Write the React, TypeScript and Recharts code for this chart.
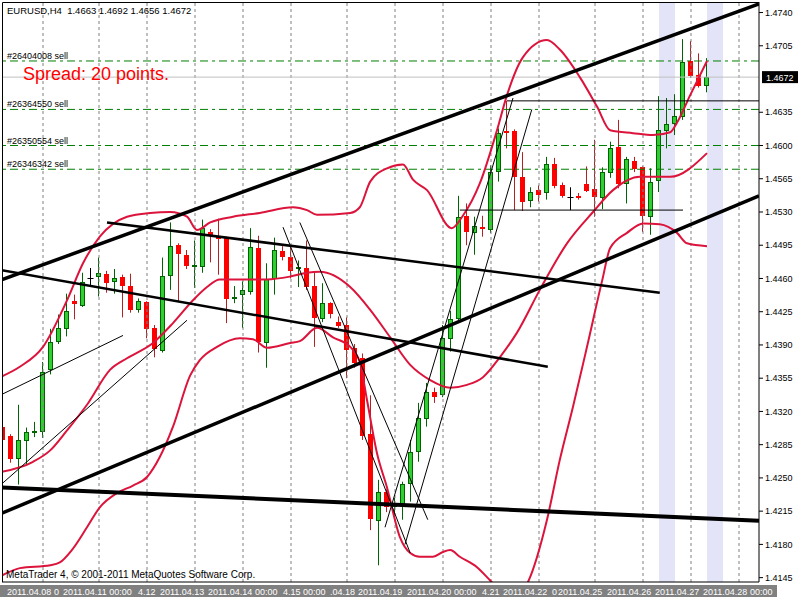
import React from "react";
import {
  ComposedChart,
  Bar,
  Line,
  XAxis,
  YAxis,
  ReferenceLine,
  ReferenceArea,
  ReferenceDot,
} from "recharts";

const FONT = '"Liberation Sans", Arial, sans-serif';

const symbol = "EURUSD";
const period = "H4";

// H4 bars, left to right (bar 0 is the first one on screen)
const opens = [
  1.4304, 1.4294, 1.427, 1.4289, 1.4297, 1.4299, 1.4364, 1.4393, 1.4407, 1.4436,
  1.4431, 1.446, 1.4462, 1.4465, 1.4456, 1.4462, 1.4452, 1.4427, 1.4435, 1.4408,
  1.4384, 1.4462, 1.4495, 1.4485, 1.4472, 1.4472, 1.4509, 1.4504, 1.4503, 1.444,
  1.4443, 1.4446, 1.4492, 1.4392, 1.4459, 1.4489, 1.4483, 1.447, 1.4471, 1.4452,
  1.4417, 1.4434, 1.4414, 1.4411, 1.4387, 1.4376, 1.4296, 1.4204, 1.4235, 1.422,
  1.4221, 1.4243, 1.4277, 1.4312, 1.434, 1.4337, 1.4396, 1.4418, 1.4526, 1.4508,
  1.4514, 1.4511, 1.4572, 1.4615, 1.4615, 1.4567, 1.4542, 1.4553, 1.4549, 1.458,
  1.4558, 1.4546, 1.4547, 1.4559, 1.4554, 1.4545, 1.4571, 1.4598, 1.456, 1.4584,
  1.4577, 1.4525, 1.4562, 1.4616, 1.4623, 1.463, 1.4689, 1.4674, 1.4663,
];
const highs = [
  1.4316, 1.4296, 1.4327, 1.4303, 1.4309, 1.4372, 1.4407, 1.4422, 1.4444, 1.4443,
  1.4466, 1.4471, 1.4482, 1.4468, 1.447, 1.4464, 1.4465, 1.4439, 1.4436, 1.4411,
  1.4482, 1.4519, 1.4497, 1.449, 1.45, 1.4522, 1.4512, 1.4523, 1.4504, 1.4452,
  1.4457, 1.4513, 1.4505, 1.4476, 1.4503, 1.4494, 1.4495, 1.4479, 1.45, 1.4467,
  1.4455, 1.4435, 1.442, 1.4419, 1.4391, 1.4381, 1.4337, 1.4248, 1.4238, 1.4229,
  1.4246, 1.429, 1.4329, 1.435, 1.4345, 1.4411, 1.4426, 1.4547, 1.4539, 1.4525,
  1.4526, 1.4579, 1.4618, 1.4647, 1.4617, 1.4593, 1.4556, 1.4558, 1.4588, 1.4587,
  1.4561, 1.4556, 1.455, 1.4578, 1.4606, 1.4577, 1.4604, 1.4627, 1.4588, 1.4588,
  1.4578, 1.4576, 1.4652, 1.465, 1.4654, 1.4712, 1.471, 1.4697, 1.4692,
];
const lows = [
  1.4285, 1.4266, 1.4243, 1.4264, 1.4293, 1.4292, 1.4359, 1.4391, 1.4399, 1.4417,
  1.443, 1.4451, 1.4441, 1.4445, 1.4444, 1.4419, 1.4424, 1.4424, 1.4397, 1.4377,
  1.4382, 1.4448, 1.4436, 1.447, 1.445, 1.4466, 1.4477, 1.4464, 1.4413, 1.4434,
  1.4408, 1.4443, 1.4382, 1.4366, 1.4443, 1.4479, 1.446, 1.4451, 1.4448, 1.4388,
  1.4414, 1.4418, 1.4408, 1.4355, 1.4366, 1.429, 1.4195, 1.4158, 1.4214, 1.4211,
  1.4206, 1.4225, 1.4267, 1.4304, 1.4329, 1.4335, 1.4383, 1.4416, 1.4495, 1.4485,
  1.4504, 1.4508, 1.4562, 1.4597, 1.4532, 1.4531, 1.4535, 1.4541, 1.4543, 1.4555,
  1.4545, 1.4532, 1.4543, 1.4551, 1.4525, 1.4533, 1.4566, 1.4555, 1.4539, 1.4572,
  1.4509, 1.4506, 1.4551, 1.4597, 1.4611, 1.4627, 1.4671, 1.4661, 1.4656,
];
const closes = [
  1.429, 1.427, 1.429, 1.4298, 1.4299, 1.4362, 1.4393, 1.4408, 1.4426, 1.4433,
  1.4456, 1.446, 1.4466, 1.4455, 1.446, 1.4453, 1.4427, 1.4436, 1.4407, 1.4386,
  1.4463, 1.4494, 1.4485, 1.4473, 1.4474, 1.4513, 1.4506, 1.4502, 1.4439, 1.4441,
  1.4448, 1.4493, 1.4393, 1.4459, 1.449, 1.4483, 1.4468, 1.4472, 1.4451, 1.4418,
  1.4434, 1.4422, 1.441, 1.4385, 1.4371, 1.4294, 1.4206, 1.4235, 1.4219, 1.4222,
  1.4244, 1.4277, 1.4313, 1.434, 1.4335, 1.4397, 1.4417, 1.4525, 1.4509, 1.4515,
  1.4512, 1.4572, 1.4613, 1.4613, 1.4567, 1.4541, 1.4551, 1.4548, 1.458, 1.4557,
  1.4546, 1.4546, 1.4545, 1.4552, 1.4546, 1.4572, 1.4597, 1.4559, 1.4586, 1.4576,
  1.4525, 1.4562, 1.4616, 1.4623, 1.4631, 1.4688, 1.4673, 1.4662, 1.4672,
];

// indicator curves: [bar position, price]
const upperBand: [number, number][] = [
  [-0.375, 1.4356], [2.1, 1.4367], [5, 1.4388], [8, 1.4437], [10, 1.4476], [12.1, 1.4504],
  [15.5, 1.4525], [18.4, 1.4529], [20.9, 1.453], [23, 1.4525], [24.25, 1.4511], [25.9, 1.4519],
  [28.75, 1.4525], [32.1, 1.4529], [36.25, 1.4535], [38, 1.4532], [39.25, 1.4527], [43.4, 1.4529],
  [44.6, 1.4535], [45.9, 1.4562], [48, 1.4576], [50, 1.458], [51.25, 1.4564], [53, 1.4553],
  [56.1, 1.4513], [57.4, 1.4525], [59.6, 1.456], [61.75, 1.4616], [63, 1.4653], [65, 1.4693],
  [68, 1.4711], [69.6, 1.4701], [72.1, 1.4672], [74.25, 1.4641], [75.9, 1.4616], [78.75, 1.4613],
  [81.25, 1.4611], [83.4, 1.4614], [84.25, 1.4624], [85.9, 1.4653], [88, 1.4689],
];
const middleBand: [number, number][] = [
  [-0.4, 1.4256], [3.75, 1.4267], [5.9, 1.4279], [8, 1.43], [10.5, 1.4327], [13.4, 1.4364],
  [15.5, 1.4376], [18.75, 1.4392], [21.25, 1.4413], [23.75, 1.4437], [25.5, 1.4451], [27.1, 1.4459],
  [30.5, 1.4459], [33, 1.4459], [35.9, 1.4462], [38, 1.4466], [39.6, 1.4467], [43.4, 1.4451],
  [45.9, 1.4427], [48.4, 1.4398], [50.9, 1.4369], [53.4, 1.4353], [55.9, 1.4345], [58, 1.4348],
  [60, 1.4356], [62.1, 1.4377], [64.25, 1.4403], [67.1, 1.4448], [70.5, 1.4497], [73.75, 1.453],
  [76.25, 1.4553], [79.6, 1.4567], [83.4, 1.4567], [88, 1.4592],
];
const lowerBand: [number, number][] = [
  [-0.4, 1.4146], [2.1, 1.4155], [5.9, 1.4158], [7.1, 1.4161], [8.6, 1.4174], [10.5, 1.4198],
  [12.1, 1.4219], [14.25, 1.4234], [16.25, 1.4242], [18, 1.4251], [19.6, 1.4272], [21.25, 1.4304],
  [23.4, 1.4358], [24.6, 1.4374], [26.75, 1.4388], [29.6, 1.4397], [31.25, 1.4396], [33, 1.4387],
  [35.9, 1.4392], [37.1, 1.4394], [39.25, 1.4408], [41.25, 1.4398], [43.4, 1.4388], [44.6, 1.4372],
  [45.5, 1.4332], [46.75, 1.4276], [48, 1.424], [49.6, 1.4188], [50.9, 1.4171], [52.1, 1.4167],
  [53.75, 1.4167], [55, 1.4172], [55.9, 1.4174], [57.1, 1.4167], [59.25, 1.4156], [60.9, 1.4142],
  [62.75, 1.4126], [64.4, 1.4125], [65.6, 1.414], [68, 1.4206], [69.6, 1.4269], [71.25, 1.4325],
  [73, 1.4388], [74.9, 1.4458], [75.9, 1.4492], [78, 1.4508], [80, 1.4518], [82.1, 1.4517],
  [84.25, 1.4508], [85.5, 1.4497], [88, 1.4494],
];

// hand-drawn trend lines: start and end as [bar position, price]
const trendStart: [number, number][] = [
  [-0.375, 1.4458], [-0.375, 1.4212], [13, 1.4519], [-0.375, 1.4469], [-0.375, 1.424],
  [-0.375, 1.4337], [-0.375, 1.4242], [35, 1.4514], [37.1, 1.4519], [47.75, 1.4198],
  [50.25, 1.418], [63, 1.4647], [57.1, 1.4532],
];
const trendEnd: [number, number][] = [
  [94.5, 1.4749], [94.5, 1.4547], [82.1, 1.4445], [68.1, 1.4367], [94.5, 1.4205],
  [15, 1.44], [23, 1.4416], [50.9, 1.4171], [53.1, 1.4206], [63.75, 1.465],
  [66.1, 1.4638], [94.5, 1.4647], [85, 1.4532],
];
const trendWidths = [3.5, 3.5, 2.5, 2.5, 4, 1, 1, 1, 1, 1, 1, 1, 1];

// open orders
const orderTickets = ["#26404008 sell", "#26364550 sell", "#26350554 sell", "#26346342 sell"];
const orderPrices = [1.4689, 1.4638, 1.46, 1.4575];

// axes
const priceTicks = [
  1.4145, 1.418, 1.4215, 1.425, 1.4285, 1.432, 1.4355, 1.439, 1.4425, 1.446, 1.4495,
  1.453, 1.4565, 1.46, 1.4635, 1.4705, 1.474,
];
const priceDomain = [1.41404, 1.47511];
const barDomain = [-0.125, 94.5];
const timeTicks = [0, 8, 16, 24, 32, 40, 48, 56, 64, 72, 80, 88];
const timeLabels = [
  "2011.04.08 0", "2011.04.11 00:00", "4.12", "2011.04.13", "2011.04.14 00:00", "4.15 00:00",
  ".04.18", "2011.04.19", "2011.04.20 00:00", "4.21", "2011.04.22", "0", "2011.04.25",
  "2011.04.26", "2011.04.27", "2011.04.28 00:00",
];
const timeLabelAt = [0.5, 7.5, 16.875, 19.625, 25.625, 35, 40.875, 44.375, 50.5, 59.875, 62.5, 68.625, 69.375, 75.5, 81.5, 87.5];
const dayGridAt = [5, 12, 18, 24, 30, 36, 43, 49, 55, 61, 67, 74, 80, 86, 92];
const shadedFrom = [82, 88];
const shadedTo = [84, 90];

const candles = opens.map((o, i) => ({
  i,
  range: [lows[i], highs[i]],
  o,
  h: highs[i],
  l: lows[i],
  c: closes[i],
}));
const last = candles.length - 1;
const bid = closes[last];

const toPoints = (pairs: [number, number][]) => pairs.map(([i, v]) => ({ i, v }));

const Candle = (props: any) => {
  const { x, y, width, height, payload } = props;
  if (x == null || y == null || !payload) return null;
  const top = Math.min(y, y + height);
  const full = Math.abs(height);
  const span = payload.h - payload.l;
  const at = (v: number) => (span > 0 ? top + ((payload.h - v) / span) * full : top);
  const cx = Math.floor(x + width / 2) + 0.5;
  const yo = at(payload.o);
  const yc = at(payload.c);
  if (payload.o === payload.c) {
    const ym = Math.round(yo) + 0.5;
    return (
      <g>
        <line x1={cx} x2={cx} y1={top} y2={top + full} stroke="#000" />
        <line x1={cx - 3} x2={cx + 3} y1={ym} y2={ym} stroke="#000" />
      </g>
    );
  }
  const up = payload.c > payload.o;
  const bodyTop = Math.round(Math.min(yo, yc));
  const bodyH = Math.max(2, Math.round(Math.abs(yc - yo)));
  return (
    <g>
      <line x1={cx} x2={cx} y1={top} y2={top + full} stroke={up ? "#006400" : "#b22222"} />
      {up ? (
        <rect x={cx - 2} y={bodyTop + 0.5} width={4} height={bodyH - 1} fill="#32cd32" stroke="#006400" />
      ) : (
        <rect x={cx - 2.5} y={bodyTop} width={5} height={bodyH} fill="#ff0000" />
      )}
    </g>
  );
};

const fmt = (v: number) => v.toFixed(4);

export default function App() {
  return (
    <div style={{ position: "absolute", left: 0, top: 0, width: 800, height: 600, background: "#fff" }}>
      <div style={{ position: "absolute", left: 0, top: 585, width: 777, height: 12, background: "#808080" }} />
      <div style={{ position: "absolute", left: 0, top: 0 }}>
        <ComposedChart
          width={800}
          height={600}
          data={candles}
          margin={{ top: 2, right: 0, bottom: 0, left: 2 }}
        >
          <XAxis
            dataKey="i"
            type="number"
            domain={barDomain}
            allowDataOverflow
            ticks={timeTicks}
            interval={0}
            tick={false}
            tickSize={3}
            height={18}
            stroke="#000"
          />
          <YAxis
            orientation="right"
            type="number"
            domain={priceDomain}
            allowDataOverflow
            ticks={priceTicks}
            interval={0}
            tickSize={4}
            tickMargin={2}
            width={41}
            stroke="#000"
            tickFormatter={fmt}
            tick={{ fontSize: 9, fill: "#000", fontFamily: FONT }}
          />
          {shadedFrom.map((f, k) => (
            <ReferenceArea key={"s" + k} x1={f} x2={shadedTo[k]} fill="#c9c9f1" fillOpacity={0.5} stroke="none" />
          ))}
          {dayGridAt.map((g) => (
            <ReferenceLine key={"g" + g} x={g} stroke="#808080" strokeDasharray="3 3" />
          ))}
          <ReferenceLine
            y={bid}
            stroke="#c0c0c0"
            label={(p: any) => {
              const vb = p.viewBox;
              return (
                <g>
                  <rect x={vb.x + vb.width + 3} y={vb.y - 6} width={36} height={12} fill="#000" />
                  <text x={vb.x + vb.width + 7} y={vb.y + 3.5} fontSize={9} fontFamily={FONT} fill="#fff">
                    {fmt(bid)}
                  </text>
                </g>
              );
            }}
          />
          {orderPrices.map((price, k) => (
            <ReferenceLine
              key={"o" + k}
              y={price}
              stroke="#008000"
              strokeDasharray="8 4 3 4"
              label={(p: any) => (
                <text x={p.viewBox.x + 5} y={p.viewBox.y - 2} fontSize={9} fontFamily={FONT} fill="#000">
                  {orderTickets[k]}
                </text>
              )}
            />
          ))}
          <Bar dataKey="range" barSize={5} shape={(p: any) => <Candle {...p} />} isAnimationActive={false} />
          {[upperBand, middleBand, lowerBand].map((band, k) => (
            <Line
              key={"b" + k}
              data={toPoints(band)}
              dataKey="v"
              type="monotone"
              stroke="#dc143c"
              strokeWidth={2}
              dot={false}
              activeDot={false}
              isAnimationActive={false}
            />
          ))}
          {trendStart.map((s, k) => (
            <Line
              key={"t" + k}
              data={toPoints([s, trendEnd[k]])}
              dataKey="v"
              type="linear"
              stroke="#000"
              strokeWidth={trendWidths[k]}
              dot={false}
              activeDot={false}
              isAnimationActive={false}
            />
          ))}
          {timeLabels.map((t, k) => (
            <ReferenceDot
              key={"l" + k}
              x={timeLabelAt[k]}
              y={priceDomain[0]}
              ifOverflow="visible"
              shape={(p: any) => (
                <text x={p.cx} y={p.cy + 13} fontSize={9} fontFamily={FONT} fill="#fff">
                  {t}
                </text>
              )}
            />
          ))}
        </ComposedChart>
      </div>
      <svg width={800} height={600} style={{ position: "absolute", left: 0, top: 0, pointerEvents: "none" }}>
        <path d="M2.5 582 V2.5 H759" stroke="#000" fill="none" />
        <text x={7} y={14} fontSize={9.5} fontFamily={FONT} fill="#000" style={{ whiteSpace: "pre" }}>
          {`${symbol},${period}  ${fmt(opens[last])} ${fmt(highs[last])} ${fmt(lows[last])} ${fmt(closes[last])}`}
        </text>
        <text x={23} y={80} fontSize={18} fontFamily={FONT} fill="#ff0000">
          Spread: 20 points.
        </text>
        <text x={6} y={578} fontSize={10} fontFamily={FONT} fill="#000">
          MetaTrader 4, © 2001-2011 MetaQuotes Software Corp.
        </text>
      </svg>
    </div>
  );
}
